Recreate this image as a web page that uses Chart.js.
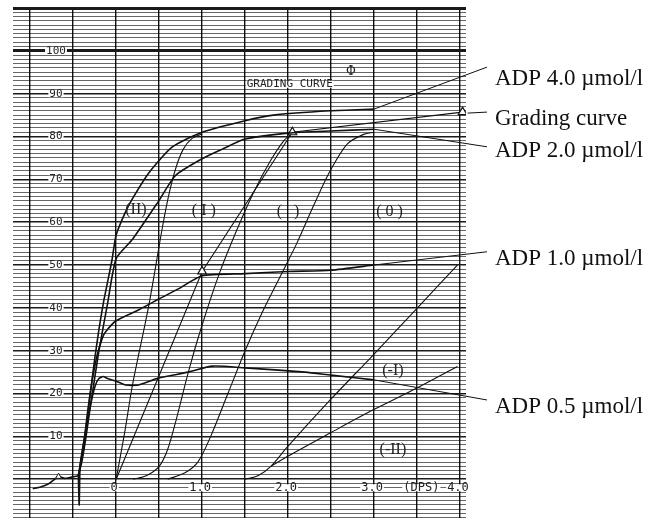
<!DOCTYPE html>
<html>
<head>
  <title>ADP aggregation grading curve</title>
  <script src="https://cdn.jsdelivr.net/npm/chart.js"></script>
  <style>
    body {
      margin: 0;
      background: #fff;
    }

    #wrap {
      width: 663px;
      height: 524px;
    }
  </style>
</head>
<body>
  <div id="wrap"><canvas id="aggChart"></canvas></div>

  <script>
    // x = time on the recorder (DPS), y = aggregation (%)
    const baseX = [-0.97, -0.88, -0.78, -0.67, -0.6, -0.52, -0.44];
    const baseY = [-2.2, -1.8, -1.0, 0.6, 0.2, 0.5, 0.8];

    const adp40X = [-0.44, -0.43, -0.42, -0.4, -0.35, -0.3, -0.25, -0.2, -0.15, -0.1, -0.05, 0, 0.1, 0.19, 0.38, 0.65, 1.0, 1.5, 1.83, 2.49, 3.0];
    const adp40Y = [0.8, -6, 3, 6, 12, 20, 28, 35, 41, 46, 51, 57, 62, 65.5, 71.5, 77.5, 81, 83.7, 85, 86, 86.4];

    const adp20X = [-0.44, -0.4, -0.35, -0.3, -0.2, -0.1, 0, 0.19, 0.49, 0.69, 1.0, 1.23, 1.5, 2.0, 2.49, 3.0];
    const adp20Y = [0.8, 4, 10, 17, 30, 41, 51.5, 56, 64.8, 70.9, 74.8, 77, 79.4, 80.8, 81.3, 81.7];

    const adp10X = [-0.44, -0.38, -0.33, -0.28, -0.22, -0.16, -0.12, 0, 0.26, 0.49, 0.73, 1.0, 1.5, 2.0, 2.5, 3.0];
    const adp10Y = [0.8, 8, 16, 23, 29, 33, 34.5, 37, 39.5, 42, 44.5, 47.5, 48, 48.5, 48.8, 50];

    const adp05X = [-0.44, -0.38, -0.33, -0.28, -0.24, -0.2, -0.15, -0.1, 0, 0.11, 0.26, 0.49, 0.84, 1.12, 1.5, 2.2, 2.5, 3.0];
    const adp05Y = [0.8, 7, 14, 19, 22, 23.5, 24, 23.5, 22.9, 22, 22, 23.6, 25, 26.4, 26, 25, 24.3, 23.2];

    // grading curve (max aggregation per ADP dose)
    const gradingX = [0, 0.5, 1.0, 2.05, 4.03];
    const gradingY = [0, 24.2, 48.5, 81, 85.7];

    // template curves for the grades
    const gradeIIX = [0, 0.1, 0.19, 0.38, 0.54, 0.62, 0.7, 0.78, 0.88, 1.0];
    const gradeIIY = [0, 11, 22, 40.6, 59, 67, 73, 77, 79.5, 80.6];
    const gradeIX = [0.2, 0.35, 0.5, 0.6, 0.7, 0.84, 1.0, 1.2, 1.4, 1.6, 1.8, 1.95, 2.05];
    const gradeIY = [0, 0.8, 3, 7, 14, 25, 36, 48, 58, 67, 74.5, 79, 80.8];
    const grade0X = [0.6, 0.8, 0.95, 1.1, 1.3, 1.5, 1.7, 1.9, 2.1, 2.3, 2.49, 2.69, 2.88, 3.0];
    const grade0Y = [0, 1.5, 4, 10, 20, 30, 39, 47, 55, 64, 72, 78.3, 80.5, 81];
    const gradeM1X = [1.5, 1.65, 1.8, 1.99, 2.49, 2.99, 3.5, 3.97];
    const gradeM1Y = [0, 0.8, 3, 7.5, 18.5, 29, 39.9, 50];
    const gradeM2X = [1.8, 1.99, 2.49, 2.99, 3.5, 3.97];
    const gradeM2Y = [3, 5.3, 10.8, 16.2, 21.3, 26.3];

    const yTickLabels = [100, 90, 80, 70, 60, 50, 40, 30, 20, 10];
    const xTickValues = [0, 1, 2, 3, 4];
    const xTickLabels = ['0', '1.0', '2.0', '3.0', '4.0'];
    const gradeNames = ['(II)', '( I )', '(   )', '( 0 )', '(-I)', '(-II)'];
    const gradeNameX = [0.23, 1.02, 2.0, 3.18, 3.22, 3.22];
    const gradeNameY = [63, 62.7, 62.4, 62.4, 25.2, 6.9];

    const toPoints = (xs, ys) => xs.map((v, i) => ({ x: v, y: ys[i] }));

    const traceStyle = { borderColor: '#111', borderWidth: 1.6, pointRadius: 0, fill: false, tension: 0.2 };
    const templateStyle = { borderColor: '#111', borderWidth: 1.1, pointRadius: 0, fill: false, tension: 0.3 };

    const datasets = [
      { label: 'baseline', data: toPoints(baseX, baseY), ...traceStyle,
        pointRadius: baseX.map((v, i) => i === 3 ? 3.5 : 0), pointStyle: 'triangle',
        pointBackgroundColor: '#fff', pointBorderColor: '#111', pointBorderWidth: 1 },
      { label: 'ADP 4.0 µmol/l', data: toPoints(adp40X, adp40Y), ...traceStyle },
      { label: 'ADP 2.0 µmol/l', data: toPoints(adp20X, adp20Y), ...traceStyle },
      { label: 'ADP 1.0 µmol/l', data: toPoints(adp10X, adp10Y), ...traceStyle },
      { label: 'ADP 0.5 µmol/l', data: toPoints(adp05X, adp05Y), ...traceStyle },
      { label: 'Grading curve', data: toPoints(gradingX, gradingY), ...templateStyle, tension: 0,
        pointRadius: gradingX.map((v, i) => i >= 2 ? 5 : 0), pointStyle: 'triangle',
        pointBackgroundColor: '#fff', pointBorderColor: '#111', pointBorderWidth: 1.2 },
      { label: 'II', data: toPoints(gradeIIX, gradeIIY), ...templateStyle },
      { label: 'I', data: toPoints(gradeIX, gradeIY), ...templateStyle },
      { label: '0', data: toPoints(grade0X, grade0Y), ...templateStyle },
      { label: '-I', data: toPoints(gradeM1X, gradeM1Y), ...templateStyle },
      { label: '-II', data: toPoints(gradeM2X, gradeM2Y), ...templateStyle }
    ];

    // callouts on the right: dataset index, leader end and text baseline (in % units)
    const callouts = [
      { ds: 1, text: 'ADP 4.0 µmol/l', endV: 96.2, textV: 92.0 },
      { ds: 5, text: 'Grading curve', endV: 85.7, textV: 82.7 },
      { ds: 2, text: 'ADP 2.0 µmol/l', endV: 77.6, textV: 75.2 },
      { ds: 3, text: 'ADP 1.0 µmol/l', endV: 53.1, textV: 49.9 },
      { ds: 4, text: 'ADP 0.5 µmol/l', endV: 18.5, textV: 15.5 }
    ];

    const labelText = (ctx, str, px, py, bg) => {
      const w = ctx.measureText(str).width;
      if (bg) {
        ctx.fillStyle = '#fff';
        ctx.fillRect(px - w / 2 - 1, py - 3.5, w + 2, 7);
      }
      ctx.fillStyle = '#222';
      ctx.fillText(str, px, py);
    };

    const overlay = {
      id: 'overlay',
      afterDatasetsDraw(chart) {
        const { ctx, chartArea, scales: { x, y } } = chart;
        ctx.save();

        // value labels printed on the chart paper
        ctx.font = '11px "DejaVu Sans Mono"';
        ctx.textAlign = 'center';
        ctx.textBaseline = 'middle';
        yTickLabels.forEach(v => labelText(ctx, String(v), x.getPixelForValue(-0.7), y.getPixelForValue(v), true));
        ctx.font = '12px "DejaVu Sans Mono"';
        xTickValues.forEach((v, i) => labelText(ctx, xTickLabels[i], x.getPixelForValue(v) - 2, y.getPixelForValue(-2), true));
        labelText(ctx, '(DPS)', x.getPixelForValue(3.55), y.getPixelForValue(-2), true);
        ctx.font = '11px "DejaVu Sans Mono"';
        labelText(ctx, 'GRADING CURVE', x.getPixelForValue(2.02), y.getPixelForValue(92.2), true);
        ctx.font = '12px "DejaVu Serif"';
        labelText(ctx, 'Φ', x.getPixelForValue(2.73), y.getPixelForValue(95.2), false);

        // grade names
        ctx.font = '16px "Liberation Serif"';
        gradeNames.forEach((g, i) => labelText(ctx, g, x.getPixelForValue(gradeNameX[i]), y.getPixelForValue(gradeNameY[i]), false));

        // leaders and right-hand labels
        ctx.strokeStyle = '#111';
        ctx.lineWidth = 1;
        ctx.font = '23px "Liberation Serif"';
        ctx.textAlign = 'left';
        ctx.textBaseline = 'alphabetic';
        callouts.forEach(c => {
          const pts = chart.getDatasetMeta(c.ds).data;
          const last = pts[pts.length - 1];
          const startX = c.ds === 5 ? last.x + 5 : last.x;
          const startY = c.ds === 5 ? last.y + 1 : last.y;
          ctx.beginPath();
          ctx.moveTo(startX, startY);
          ctx.lineTo(chartArea.right + 21, y.getPixelForValue(c.endV));
          ctx.stroke();
          ctx.fillStyle = '#111';
          ctx.fillText(c.text, chartArea.right + 29, y.getPixelForValue(c.textV));
        });
        ctx.restore();
      }
    };

    new Chart(document.getElementById('aggChart'), {
      type: 'line',
      data: { datasets },
      options: {
        responsive: true,
        maintainAspectRatio: false,
        animation: false,
        layout: { padding: { left: 13, top: 8, right: 197, bottom: 4 } },
        plugins: { legend: { display: false }, tooltip: { enabled: false } },
        scales: {
          x: {
            type: 'linear',
            min: -1.2,
            max: 4.07,
            border: { display: false },
            ticks: { display: false, stepSize: 0.5, includeBounds: false, autoSkip: false },
            grid: { color: '#111', lineWidth: 1.4, drawTicks: false }
          },
          y: {
            type: 'linear',
            min: -9,
            max: 110,
            border: { display: false },
            ticks: { display: false, stepSize: 1, includeBounds: false, autoSkip: false, maxTicksLimit: 200 },
            grid: {
              drawTicks: false,
              color: c => (c.tick.value % 10 === 0 ? '#1a1a1a' : 'rgba(0,0,0,0.6)'),
              lineWidth: c => (c.tick.value === 100 || c.tick.value === 110 ? 3 : c.tick.value % 10 === 0 ? 1.5 : 1)
            }
          }
        }
      },
      plugins: [overlay]
    });
  </script>
</body>
</html>
